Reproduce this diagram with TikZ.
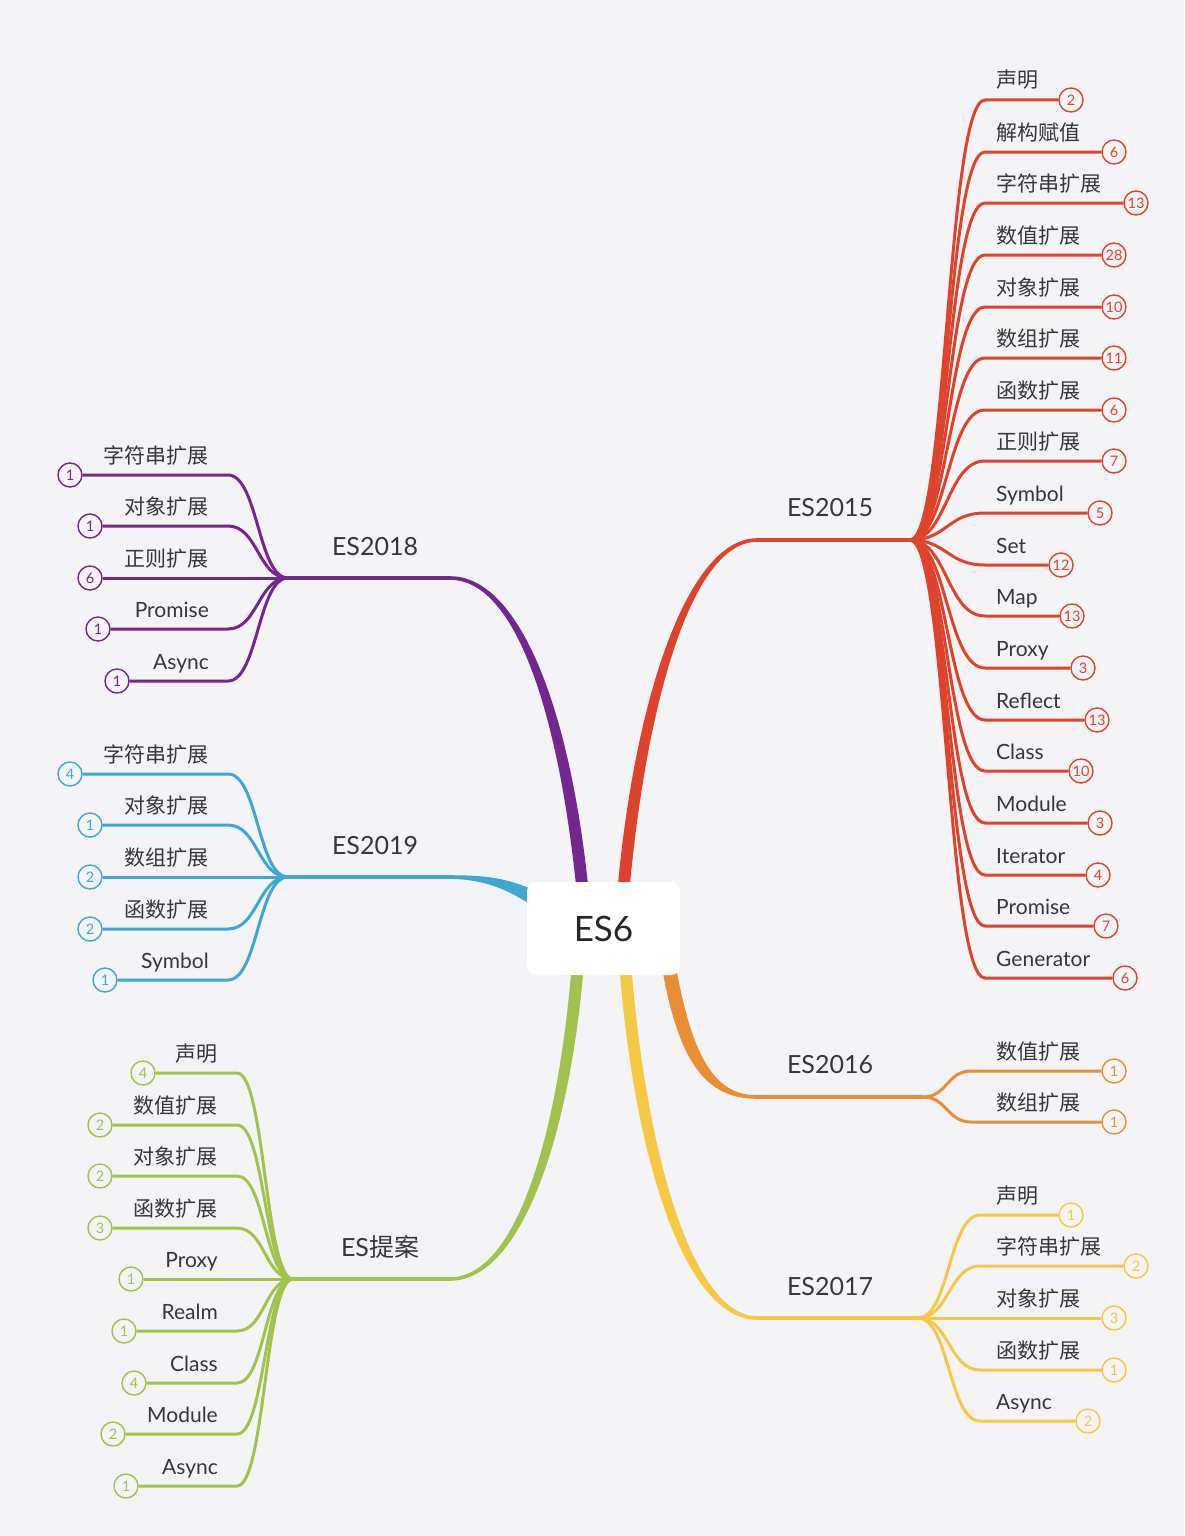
\documentclass[tikz,border=0pt]{standalone}
\usepackage{fontspec}
\setmainfont{Lato}
\newfontfamily\cjk{Noto Sans CJK SC}
\usetikzlibrary{calc}
\definecolor{bg}{RGB}{244,244,247}
\definecolor{txt}{RGB}{52,55,62}
\definecolor{cR}{RGB}{222,68,44}
\definecolor{cP}{RGB}{114,38,142}
\definecolor{cB}{RGB}{62,168,210}
\definecolor{cG}{RGB}{162,194,78}
\definecolor{cY}{RGB}{245,200,70}
\definecolor{cO}{RGB}{233,142,52}
\newcommand\zh[1]{{\cjk\fontsize{21}{24}\selectfont #1}}
\tikzset{
 lbl/.style={text=txt, font=\fontsize{21}{24}\selectfont, inner sep=0pt},
 sublbl/.style={text=txt, font=\fontsize{25}{28}\selectfont, inner sep=0pt, anchor=base},
 num/.style={circle, draw, line width=1.4pt, minimum size=24pt, inner sep=0pt, font=\fontsize{14.5}{16}\selectfont, fill=bg},
 childln/.style={line width=3pt},
 trunk/.style={line width=3.6pt},
 rootbox/.style={fill=white, rounded corners=9pt, minimum width=153pt, minimum height=93pt, font=\fontsize{35}{40}\selectfont, text=black!85, inner sep=0pt}
}
\begin{document}
\begin{tikzpicture}[x=1pt,y=-1pt]
\fill[bg] (0,0) rectangle (1184,1536);
\useasboundingbox (0,0) rectangle (1184,1536);

% ---------- main branches ----------
\coordinate (b15) at (757,540);  \coordinate (h15) at (910,540);
\coordinate (b18) at (450,578);  \coordinate (h18) at (288,578);
\coordinate (b19) at (445,877);  \coordinate (h19) at (288,877);
\coordinate (bp)  at (450,1279); \coordinate (hp)  at (293,1279);
\coordinate (b16) at (757,1097); \coordinate (h16) at (923,1097);
\coordinate (b17) at (757,1318); \coordinate (h17) at (918,1318);

\fill[cR] (617,895) .. controls (634,698) and (688,538.2) .. (757,538.2) -- (757,541.8) .. controls (692,541.8) and (646,702) .. (629,895) -- cycle;
\fill[cP] (589,895) .. controls (572,718) and (522,576.2) .. (450,576.2) -- (450,579.8) .. controls (518,579.8) and (560,722) .. (577,895) -- cycle;
\fill[cB] (445,875.2) .. controls (490,875.2) and (518,877) .. (566,908) -- (556,922) .. controls (510,888) and (485,878.8) .. (445,878.8) -- cycle;
\fill[cG] (584,962) .. controls (571,1132) and (522,1280.8) .. (450,1280.8) -- (450,1277.2) .. controls (518,1277.2) and (559,1128) .. (572,962) -- cycle;
\fill[cY] (619,962) .. controls (634,1162) and (686,1319.8) .. (757,1319.8) -- (757,1316.2) .. controls (694,1316.2) and (646,1158) .. (631,962) -- cycle;
\fill[cO] (661,962) .. controls (678,1063) and (706,1098.8) .. (757,1098.8) -- (757,1095.2) .. controls (714,1095.2) and (692,1057) .. (675,962) -- cycle;

\draw[trunk,cR] (b15) -- (h15);
\draw[trunk,cP] (b18) -- (h18);
\draw[trunk,cB] (b19) -- (h19);
\draw[trunk,cG] (bp) -- (hp);
\draw[trunk,cO] (b16) -- (h16);
\draw[trunk,cY] (b17) -- (h17);

\node[sublbl] (t15) at (830,516) {ES2015};
\node[sublbl] (t18) at (375,555) {ES2018};
\node[sublbl] (t19) at (375,854) {ES2019};
\node[sublbl] (tp)  at (380,1256) {ES{\cjk 提案}};
\node[sublbl] (t16) at (830,1073) {ES2016};
\node[sublbl] (t17) at (830,1295) {ES2017};

% ---------- ES2015 ----------
\foreach \y/\t/\cx/\n [count=\i] in {
100/\zh{声明}/1071/2,
152/\zh{解构赋值}/1114/6,
203/\zh{字符串扩展}/1136/13,
255/\zh{数值扩展}/1114/28,
307/\zh{对象扩展}/1114/10,
358/\zh{数组扩展}/1114/11,
410/\zh{函数扩展}/1114/6,
461/\zh{正则扩展}/1114/7,
513/Symbol/1100/5,
565/Set/1061/12,
616/Map/1072/13,
668/Proxy/1083/3,
720/Reflect/1097/13,
771/Class/1081/10,
823/Module/1100/3,
875/Iterator/1098/4,
926/Promise/1106/7,
978/Generator/1125/6}
{
 \node[num, draw=cR, text=cR] (ra\i) at (\cx,\y) {\n};
 \node[lbl, anchor=base west] (rl\i) at (996,\y-12) {\t};
 \draw[childln, cR] (h15) .. controls ($(h15)+(37,0)$) and ($(h15 |- ra\i)+(37,0)$) .. ($(h15 |- ra\i)+(75,0)$) -- (ra\i.west);
}

% ---------- ES2016 ----------
\foreach \y/\t/\cx/\n [count=\i] in {
1071/\zh{数值扩展}/1114/1,
1122/\zh{数组扩展}/1114/1}
{
 \node[num, draw=cO, text=cO] (oa\i) at (\cx,\y) {\n};
 \node[lbl, anchor=base west] (ol\i) at (996,\y-12) {\t};
 \draw[childln, cO] (h16) .. controls ($(h16)+(24,0)$) and ($(h16 |- oa\i)+(24,0)$) .. ($(h16 |- oa\i)+(48,0)$) -- (oa\i.west);
}

% ---------- ES2017 ----------
\foreach \y/\t/\cx/\n [count=\i] in {
1215/\zh{声明}/1071/1,
1266/\zh{字符串扩展}/1136/2,
1318/\zh{对象扩展}/1114/3,
1370/\zh{函数扩展}/1114/1,
1421/Async/1088/2}
{
 \node[num, draw=cY, text=cY] (ya\i) at (\cx,\y) {\n};
 \node[lbl, anchor=base west] (yl\i) at (996,\y-12) {\t};
 \draw[childln, cY] (h17) .. controls ($(h17)+(31,0)$) and ($(h17 |- ya\i)+(31,0)$) .. ($(h17 |- ya\i)+(62,0)$) -- (ya\i.west);
}

% ---------- ES2018 ----------
\foreach \y/\t/\cx/\n [count=\i] in {
475/\zh{字符串扩展}/70/1,
526/\zh{对象扩展}/90/1,
578/\zh{正则扩展}/90/6,
629/Promise/98/1,
681/Async/117/1}
{
 \node[num, draw=cP, text=cP] (pa\i) at (\cx,\y) {\n};
 \node[lbl, anchor=base east] (pl\i) at (209,\y-12) {\t};
 \draw[childln, cP] (h18) .. controls ($(h18)+(-30,0)$) and ($(h18 |- pa\i)+(-30,0)$) .. ($(h18 |- pa\i)+(-60,0)$) -- (pa\i.east);
}

% ---------- ES2019 ----------
\foreach \y/\t/\cx/\n [count=\i] in {
774/\zh{字符串扩展}/70/4,
825/\zh{对象扩展}/90/1,
877/\zh{数组扩展}/90/2,
929/\zh{函数扩展}/90/2,
980/Symbol/105/1}
{
 \node[num, draw=cB, text=cB] (ba\i) at (\cx,\y) {\n};
 \node[lbl, anchor=base east] (bl\i) at (209,\y-12) {\t};
 \draw[childln, cB] (h19) .. controls ($(h19)+(-30,0)$) and ($(h19 |- ba\i)+(-30,0)$) .. ($(h19 |- ba\i)+(-60,0)$) -- (ba\i.east);
}

% ---------- ES proposals ----------
\foreach \y/\t/\cx/\n [count=\i] in {
1073/\zh{声明}/143/4,
1125/\zh{数值扩展}/100/2,
1176/\zh{对象扩展}/100/2,
1228/\zh{函数扩展}/100/3,
1279/Proxy/131/1,
1331/Realm/124/1,
1383/Class/134/4,
1434/Module/113/2,
1486/Async/126/1}
{
 \node[num, draw=cG, text=cG] (ga\i) at (\cx,\y) {\n};
 \node[lbl, anchor=base east] (gl\i) at (218,\y-12) {\t};
 \draw[childln, cG] (hp) .. controls ($(hp)+(-28,0)$) and ($(hp |- ga\i)+(-28,0)$) .. ($(hp |- ga\i)+(-56,0)$) -- (ga\i.east);
}

% ---------- root ----------
\node[rootbox] (es6) at (603.5,928.5) {ES6};
\end{tikzpicture}
\end{document}
